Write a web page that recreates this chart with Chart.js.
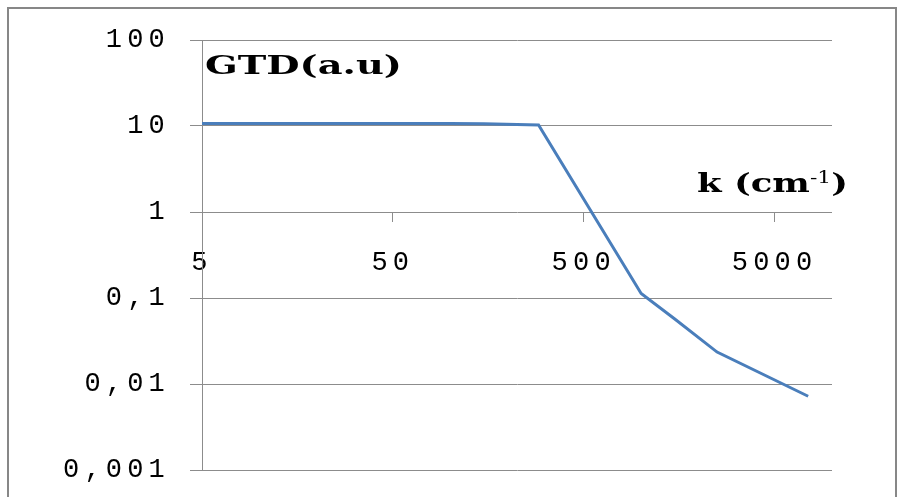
<!DOCTYPE html>
<html>
<head>
<meta charset="utf-8">
<script src="https://cdn.jsdelivr.net/npm/chart.js@4/dist/chart.umd.min.js"></script>
<style>
  html, body { margin: 0; padding: 0; background: #fff; }
  canvas { display: block; }
</style>
</head>
<body>
<canvas id="gtdChart" width="904" height="497"></canvas>
<script>
// k (cm-1) en abscisse, GTD (a.u) en ordonnée
const kValues = [5, 100, 150, 290, 1000, 1500, 2500, 7500];
const gtdValues = [10.7, 10.7, 10.6, 10.3, 0.113, 0.057, 0.0235, 0.0072];

const xTicks = [5, 50, 500, 5000];
const xTickLabels = ["5", "50", "500", "5000"];
const yTicks = [0.001, 0.01, 0.1, 1, 10, 100];
const yTickLabels = ["0,001", "0,01", "0,1", "1", "10", "100"];

const gridColor = "#8c8c8c";
const tickFont = { family: "'Liberation Mono', monospace", size: 27 };

// cadre gris autour du graphique + espacement des lettres pour les graduations
const framePlugin = {
    id: "frame",
    beforeDraw(chart) {
        const ctx = chart.ctx;
        ctx.save();
        ctx.strokeStyle = "#878787";
        ctx.lineWidth = 2;
        ctx.strokeRect(8, 8, 888, 520);
        ctx.restore();
        ctx.letterSpacing = "5.2px";
    }
};

// titres des axes, texte étiré horizontalement comme sur l'original
function drawStretched(ctx, parts, x, y, width) {
    ctx.save();
    ctx.letterSpacing = "0px";
    ctx.fillStyle = "#000";
    ctx.textBaseline = "alphabetic";
    ctx.textAlign = "left";
    let total = 0;
    parts.forEach(p => { ctx.font = p.font; p.w = ctx.measureText(p.text).width; total += p.w; });
    ctx.translate(x, y);
    ctx.scale(width / total, 1);
    let cx = 0;
    parts.forEach(p => {
        ctx.font = p.font;
        ctx.fillText(p.text, cx, -(p.rise || 0));
        cx += p.w;
    });
    ctx.restore();
}

const titlePlugin = {
    id: "axisTitles",
    afterDraw(chart) {
        const ctx = chart.ctx;
        const font = "bold 26px 'DejaVu Serif', serif";
        const sup = "16px 'DejaVu Serif', serif";
        drawStretched(ctx, [{ text: "GTD(a.u)", font }], 205, 74, 197);
        drawStretched(ctx, [
            { text: "k (cm", font },
            { text: "-1", font: sup, rise: 9 },
            { text: ")", font }
        ], 697, 192, 151);
    }
};

// pas de marge automatique autour des axes
function noPadding(s) {
    s.paddingTop = 0;
    s.paddingBottom = 0;
    s.paddingLeft = 0;
    s.paddingRight = 0;
}

const ctx = document.getElementById("gtdChart").getContext("2d");
new Chart(ctx, {
    type: "line",
    data: {
        datasets: [{
            label: "GTD",
            data: kValues.map((k, i) => ({ x: k, y: gtdValues[i] })),
            borderColor: "#4a7ebb",
            borderWidth: 3,
            pointRadius: 0,
            tension: 0,
            fill: false
        }]
    },
    options: {
        responsive: false,
        animation: false,
        layout: { padding: { left: 0, top: 40, right: 72, bottom: 27 } },
        plugins: {
            legend: { display: false },
            tooltip: { enabled: false }
        },
        scales: {
            x: {
                type: "logarithmic",
                min: 5,
                max: 10000,
                position: { y: 1 },
                afterBuildTicks: s => { s.ticks = xTicks.map(v => ({ value: v })); },
                afterFit: noPadding,
                grid: { drawOnChartArea: false, drawTicks: true, tickLength: 10, color: gridColor },
                border: { display: false },
                ticks: {
                    autoSkip: false,
                    maxRotation: 0,
                    padding: 25,
                    color: "#000",
                    font: tickFont,
                    callback: (v, i) => xTickLabels[i]
                }
            },
            y: {
                type: "logarithmic",
                min: 0.001,
                max: 100,
                afterBuildTicks: s => { s.ticks = yTicks.map(v => ({ value: v })); },
                afterFit: s => { s.width = 202; noPadding(s); },
                grid: { color: gridColor, tickLength: 12 },
                border: { color: gridColor, width: 1 },
                ticks: {
                    padding: 20,
                    color: "#000",
                    font: tickFont,
                    callback: (v, i) => yTickLabels[i]
                }
            }
        }
    },
    plugins: [framePlugin, titlePlugin]
});
</script>
</body>
</html>
